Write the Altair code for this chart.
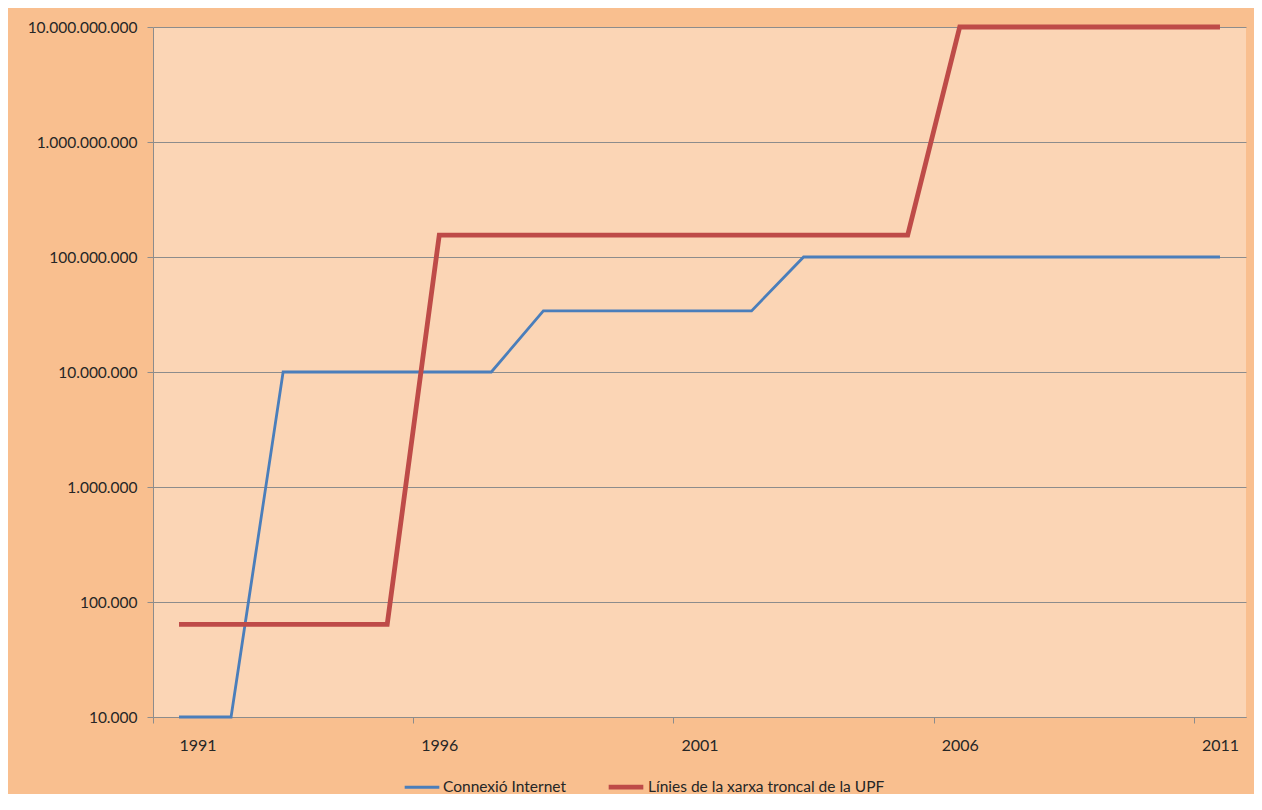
import altair as alt
import pandas as pd

years = list(range(1991, 2012))
internet = [1e4, 1e4,
            1e7, 1e7, 1e7, 1e7, 1e7,
            34e6, 34e6, 34e6, 34e6, 34e6,
            1e8, 1e8, 1e8, 1e8, 1e8, 1e8, 1e8, 1e8, 1e8]
backbone = [64e3, 64e3, 64e3, 64e3, 64e3,
            155e6, 155e6, 155e6, 155e6, 155e6, 155e6, 155e6, 155e6, 155e6, 155e6,
            1e10, 1e10, 1e10, 1e10, 1e10, 1e10]
series_names = ["Connexió Internet", "Línies de la xarxa troncal de la UPF"]
series_colors = ["#4A7EBB", "#BE4B48"]
series_widths = [2.8, 4.8]
y_ticks = [1e4, 1e5, 1e6, 1e7, 1e8, 1e9, 1e10]
x_ticks = [1990.5, 1995.5, 2000.5, 2005.5, 2010.5]

rows = []
for y, v in zip(years, internet):
    rows.append({"year": y, "value": v, "series": series_names[0]})
for y, v in zip(years, backbone):
    rows.append({"year": y, "value": v, "series": series_names[1]})
df = pd.DataFrame(rows)

FONT = "Lato"

legend_cfg = dict(title=None, orient="none", legendX=250, legendY=740,
                  direction="horizontal", symbolType="stroke",
                  symbolSize=1200, columnPadding=32, labelOffset=2, labelLimit=500,
                  labelFont=FONT, labelFontSize=15.5, labelColor="#262626")

chart = alt.Chart(df).mark_line(strokeCap="butt", strokeJoin="miter").encode(
    x=alt.X("year:Q",
            scale=alt.Scale(domain=[1990.5, 2011.5], nice=False, zero=False),
            axis=alt.Axis(values=x_ticks, title=None, grid=False,
                          labelExpr="format(datum.value + 0.5, 'd')",
                          labelOffset=26, labelPadding=14, tickSize=6,
                          tickColor="#8C8C8C", domainColor="#8C8C8C",
                          labelFont=FONT, labelFontSize=16, labelColor="#262626")),
    y=alt.Y("value:Q",
            scale=alt.Scale(type="log", domain=[1e4, 1e10], nice=False),
            axis=alt.Axis(values=y_ticks, title=None, grid=True, gridColor="#8C8C8C",
                          gridWidth=1,
                          labelExpr="replace(format(datum.value, ','), /,/g, '.')",
                          tickSize=6, labelPadding=10,
                          tickColor="#8C8C8C", domainColor="#8C8C8C",
                          labelFont=FONT, labelFontSize=15.5, labelColor="#262626")),
    color=alt.Color("series:N",
                    scale=alt.Scale(domain=series_names, range=series_colors),
                    legend=alt.Legend(**legend_cfg)),
    strokeWidth=alt.StrokeWidth("series:N",
                                scale=alt.Scale(domain=series_names, range=series_widths),
                                legend=alt.Legend(**legend_cfg)),
).properties(
    width=1093,
    height=690,
    autosize=alt.AutoSizeParams(type="none"),
    padding={"left": 145, "top": 19, "right": 8, "bottom": 77},
    background="#F9BF8F",
).configure_view(
    fill="#FBD5B5",
    stroke=None,
)

chart.save("out.html", embed_options={"renderer": "svg", "actions": False})
